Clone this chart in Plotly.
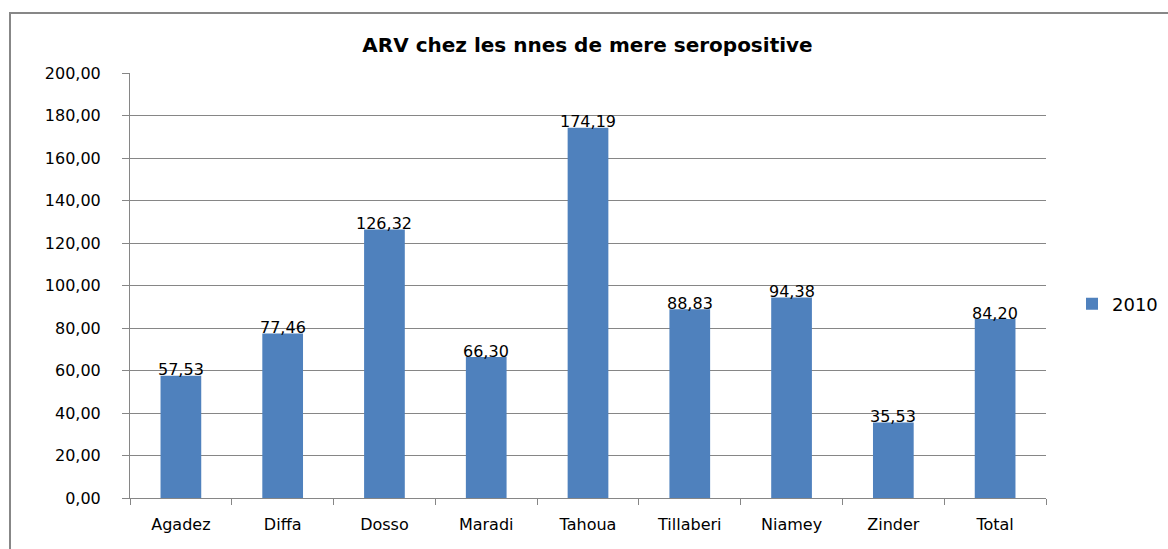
import plotly.graph_objects as go

categories = ["Agadez", "Diffa", "Dosso", "Maradi", "Tahoua", "Tillaberi", "Niamey", "Zinder", "Total"]
values_2010 = [57.53, 77.46, 126.32, 66.30, 174.19, 88.83, 94.38, 35.53, 84.20]
series_name = "2010"
title_text = "ARV chez les nnes de mere seropositive"

W, H = 1168, 549
L, R, T, B = 130, 1046, 73, 498  # plot area in pixels
pw, ph = R - L, B - T

def px_x(x):
    return (x - L) / pw

def px_y(y):
    return (B - y) / ph

bar_color = "#4F81BD"
grid_color = "#868686"
font_fam = "DejaVu Sans"

fig = go.Figure()
fig.add_trace(go.Bar(
    x=categories, y=values_2010, name=series_name,
    marker=dict(color=bar_color, line=dict(width=0)),
    showlegend=True,
))

annotations = []
for c, v in zip(categories, values_2010):
    annotations.append(dict(
        x=c, y=v, xref="x", yref="y",
        text=f"{v:.2f}".replace(".", ","),
        showarrow=False, yanchor="middle", yshift=6,
        font=dict(family=font_fam, size=16, color="#000000"),
    ))

fig.update_layout(
    width=W, height=H,
    margin=dict(l=L, r=W - R, t=T, b=H - B, pad=0, autoexpand=False),
    paper_bgcolor="white", plot_bgcolor="white",
    separators=", ",
    bargap=0.6,
    title=dict(text=f"<b>{title_text}</b>", x=0.503, xanchor="center",
               y=1 - 45 / H, yanchor="middle",
               font=dict(family=font_fam, size=20, color="#000000")),
    legend=dict(x=px_x(1072), y=px_y(304), xanchor="left", yanchor="middle",
                font=dict(family=font_fam, size=18, color="#000000"),
                bgcolor="rgba(0,0,0,0)", itemwidth=30, itemsizing="constant"),
    annotations=annotations,
    xaxis=dict(
        type="category", showgrid=False, showline=True, linecolor=grid_color, linewidth=1,
        ticks="outside", tickson="boundaries", ticklen=6, tickcolor=grid_color,
        tickfont=dict(family=font_fam, size=16, color="#000000"),
        ticklabelstandoff=12,
        range=[-0.5, len(categories) - 0.5],
    ),
    yaxis=dict(
        range=[0, 200], dtick=20, tickformat=".2f",
        showgrid=True, gridcolor=grid_color, gridwidth=1,
        showline=True, linecolor=grid_color, linewidth=1,
        ticks="outside", ticklen=7, tickcolor=grid_color,
        tickfont=dict(family=font_fam, size=16, color="#000000"),
        ticklabelstandoff=18,
        zeroline=False,
    ),
    shapes=[dict(
        type="rect", xref="paper", yref="paper",
        x0=px_x(10), x1=px_x(1250), y0=px_y(620), y1=px_y(13),
        line=dict(color="#878787", width=2), fillcolor="rgba(0,0,0,0)", layer="below",
    )],
)

fig.write_html("out.html", config={"displayModeBar": False},
               post_script="document.body.style.margin='0';document.body.style.overflow='hidden';")
